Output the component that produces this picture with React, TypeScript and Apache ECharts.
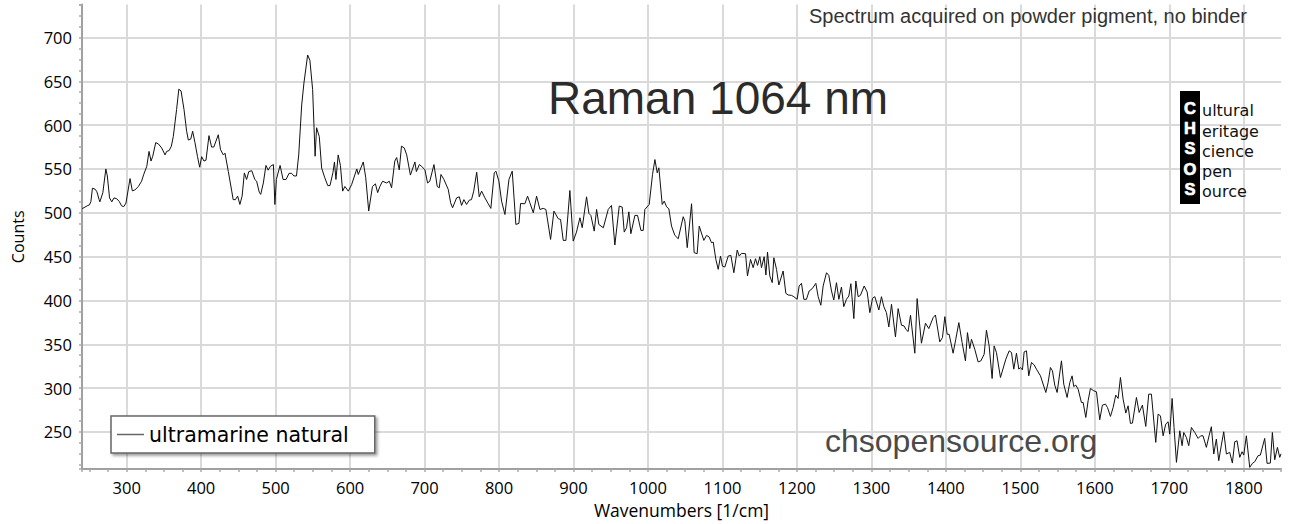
import React, { useEffect, useRef } from "react";
import * as echarts from "echarts";

// Raman spectrum: [wavenumber (1/cm), counts]
const spectrum: [number, number][] = [
  [240, 505], [241, 505], [247, 508], [250, 509], [252, 513], [254, 528], [257.5, 527], [260, 524], [263, 515], [264, 512.5],
  [268, 523], [272, 550], [274, 542], [277, 517], [280, 512.5], [283, 517], [286.6, 516], [290, 513], [293, 508], [296, 507],
  [299, 511], [304.5, 539], [307.6, 525], [311, 526], [315.7, 530], [320, 536], [323, 544], [327, 553], [330, 570], [332.7, 559],
  [335, 564.5], [339, 580], [342.5, 578.6], [347, 574], [351.5, 566], [353.7, 570], [357, 571], [360, 576], [362.6, 587], [367, 617.7],
  [370, 641], [373, 639], [377, 617.7], [380.5, 593], [382.8, 583], [386, 584], [388.6, 593], [391.7, 580], [395, 564.5], [398, 552],
  [400.7, 564], [403.8, 559], [406.5, 560], [410.5, 588], [414, 575], [417, 575], [423, 589], [426, 572], [429.8, 566], [432, 568],
  [436.5, 547], [441, 525], [443, 515], [446, 515], [449, 519], [452, 509.5], [455, 519], [458, 545.5], [461, 538], [464, 547],
  [468, 548], [472, 538], [474.5, 536], [478, 523.5], [480, 521], [483.5, 534], [487, 554], [490, 548.6], [493, 553], [497, 555],
  [499, 509.5], [501, 538], [506, 554], [510, 538], [514, 538], [518, 545], [521.5, 545], [524.6, 542], [528, 542], [531, 566],
  [535, 623], [538, 648], [543, 680], [546, 674], [549.7, 640.5], [553, 564.5], [555, 597], [558.6, 587], [561.8, 551], [566, 540],
  [570, 531], [573, 531], [577, 546], [579, 558], [581, 538], [584, 566], [587, 554], [590, 524.7], [593, 530], [597.6, 524.7],
  [602, 532], [609, 550], [611, 543.7], [617.7, 558], [621, 540], [625, 502], [630, 530], [634, 533], [637, 523], [640, 530],
  [643.6, 536], [649, 534], [652.6, 536], [655.7, 528.5], [660, 559], [662.5, 563], [666, 549], [669, 576], [672.7, 574], [676, 566],
  [681, 543], [687, 558], [689, 547], [693, 555], [696, 553], [700.5, 549], [704, 534],
  [707, 536], [712.6, 555], [717, 530], [719.7, 528.5], [722, 543.7], [726, 538], [731.8, 526.6], [735, 511.4], [737.6, 505.7], [743, 517],
  [746.6, 518.2], [749.7, 508.4], [752.8, 515], [756.4, 509.5], [760, 514.4], [763, 515], [766, 524.7], [770, 546.3], [773.4, 518.2], [776.6, 524.7],
  [781, 517], [785.5, 510.3], [789, 505], [793.6, 545.6], [795.8, 547.5], [799.8, 536], [803.4, 513.3], [807.9, 498], [813.3, 538], [817.7, 547.5],
  [822.6, 486.7], [826.7, 487.9], [828.9, 510.6], [834.7, 510.3], [838.3, 519], [841.4, 511.4], [846, 500], [850.4, 519], [854.9, 503.8], [859.3, 505],
  [862.9, 503.8], [869.2, 469.6], [873.7, 501.9], [879.5, 493.2], [882.6, 492.4], [886.2, 468.5], [889.8, 468.5], [895.1, 525.4], [899.6, 467.7], [904, 478],
  [908.6, 494.3], [911.7, 483], [917.5, 518.2], [920.7, 499.2], [923.3, 497], [927.8, 479.1], [931, 503.8], [934, 486.7], [940, 482.9], [946.6, 503.8],
  [951, 508.4], [955.5, 463.2], [961.4, 507.6], [965.4, 506.5], [968.1, 478], [971.2, 482.9], [974.3, 501.1], [977, 476.1], [982.4, 497], [986, 497],
  [990.5, 479.9], [993.6, 479.9], [995.8, 503.8], [1001.6, 509.5], [1006.1, 543.7], [1009.3, 560.7], [1012.4, 545.6], [1014.6, 551.3], [1019.1, 509.5], [1021.8, 513.3],
  [1025, 506.8], [1028, 504.6], [1031.6, 484.8], [1036.1, 474.2], [1040.6, 470.4], [1047.3, 495.5], [1049.5, 490.5], [1052.7, 460.2], [1058.5, 510.3], [1062, 454.5],
  [1066, 453.3], [1068.8, 484.8], [1075, 468.5], [1078.6, 474.2], [1082.2, 472.3], [1085.3, 465.8], [1087.6, 466.6], [1091.1, 446.9], [1094.3, 435.5],
  [1097.4, 450.6], [1100, 439.2], [1103.2, 438.1], [1107.7, 450.6], [1111.3, 451.4], [1115.3, 431.6], [1119.8, 457.5], [1122.5, 450.6], [1125.6, 453.7], [1131, 453.3],
  [1133.6, 427.9], [1137.7, 446.8], [1141.2, 437.4], [1144.4, 447.6], [1147.1, 440], [1150.2, 449.9], [1152.4, 437.4], [1156, 449.9], [1158.3, 429], [1160.5, 455.2],
  [1163.6, 427.9], [1166.8, 420.3], [1169, 448.7], [1172.6, 435.5], [1175.7, 417.6], [1181.5, 433.6], [1185.1, 408.1], [1188.2, 406.2], [1192.7, 405.8], [1195.8, 404.3],
  [1200.3, 401.3], [1203, 416.5], [1206.1, 419.5], [1209.3, 401.3], [1212.8, 401.3], [1216.4, 410.8], [1220.5, 413.4], [1225.4, 419.5], [1228.5, 404.3], [1232.1, 394.5],
  [1235.2, 416.5], [1239.7, 431.6], [1242.8, 428.6], [1246.4, 410.8], [1249.5, 400.5], [1253.1, 420.3], [1256.3, 401.3], [1259.8, 415.3], [1262.9, 392.9], [1266.5, 401.3],
  [1269.7, 405], [1272.4, 419.1], [1276.4, 379.3], [1279.1, 422.2], [1282.2, 404.3], [1285.3, 405.8], [1290.3, 416.5], [1294.3, 409.6], [1297.9, 386.1], [1301.5, 402.4],
  [1304.6, 404.3], [1310, 389.1], [1313.5, 404.3], [1316.7, 392.9], [1320.2, 386.1], [1323.4, 369.8], [1327, 395.6], [1332.3, 358.4], [1335.9, 390.7], [1340.4, 371.7],
  [1343.9, 370.9], [1346.2, 367.1], [1349.3, 364.5], [1352.5, 383.1], [1358.3, 339.8], [1361.4, 402.1], [1367.2, 351.2], [1372.6, 374], [1377.1, 367.9], [1382.9, 380.4],
  [1386, 383.4], [1391.8, 352.7], [1395.4, 357.6], [1398.6, 381.5], [1401.7, 361.4], [1404.4, 361.4], [1409.7, 339.8], [1413.3, 355.7], [1417.4, 374.7], [1421.8, 351.9],
  [1426.3, 331], [1429, 363.3], [1432.1, 345.1], [1434.4, 355.7], [1438.8, 344.3], [1443.3, 329.9], [1446.9, 331], [1451.4, 338.6], [1454.5, 366], [1458.1, 348.1],
  [1462.1, 310.9], [1464.8, 348.1], [1467.9, 340.5],
  [1473.3, 312.1], [1480.5, 333], [1485, 342.5], [1488.1, 340.6], [1491.2, 321.6], [1494.8, 339.8], [1497.9, 321.6], [1500.1, 323.5], [1502.8, 320.8], [1505.1, 341.3],
  [1508.2, 342.5], [1511.3, 314], [1514.9, 329.2], [1518.5, 326.5], [1521.6, 321.6], [1527, 314], [1534.2, 295], [1537.3, 306.4], [1540.4, 323.5], [1543.1, 319.7],
  [1546.2, 303.4], [1549.4, 295], [1555.2, 331.1], [1558.3, 304.5], [1562.8, 289.3], [1566.4, 306.4], [1569.5, 314], [1571.7, 301.8], [1574.4, 303.4], [1577.6, 298.8],
  [1582, 283.6], [1584.3, 283.6], [1587.9, 266.5], [1591, 285.5], [1594.1, 299.6], [1598.6, 296.9], [1602.2, 295.8], [1606.6, 263.9], [1610.2, 280.6], [1614.3, 281.7],
  [1617, 277.9], [1621, 267.7], [1624.6, 277.9], [1628.1, 292], [1631.3, 288.2], [1634.4, 312.1], [1638, 287.4], [1641.6, 271.5], [1644.7, 279.8], [1647.8, 259.7],
  [1650.5, 260.1], [1655.9, 289.3], [1659.5, 272.2], [1663.9, 280.6], [1668.4, 256.3], [1672.4, 293.1], [1676, 293.1], [1681.8, 238.1], [1685, 270.3], [1688.1, 268.4],
  [1691.7, 245.6], [1695.2, 258.9], [1698.4, 261.6], [1700.6, 247.5], [1703.8, 288.2], [1706.4, 255.1], [1709.6, 215.3], [1714.1, 251.3], [1717.2, 234.3], [1719.4, 249.4],
  [1723, 243.7], [1726.1, 234.3], [1729.7, 255.1], [1734.2, 249.4], [1738.7, 242.6],
  [1742.2, 245.6], [1745.3, 245.6], [1749.8, 232.4], [1753.4, 245.6], [1756.5, 255.9], [1759.7, 224.8], [1763.2, 241.8], [1766.4, 217.2], [1769.9, 235], [1773.1, 250.2],
  [1776.7, 224.8], [1781.1, 226.7], [1784.7, 214.5], [1787.9, 238.8], [1791, 239.9], [1794.6, 221], [1797.7, 227.4], [1800, 223.6], [1803.5, 245.6], [1808, 209.6],
  [1811.6, 214.1], [1814.7, 216], [1819.2, 222.9], [1822.3, 223.6], [1828.1, 242.6], [1831.3, 214.1], [1835.7, 214.5], [1838.4, 249.4], [1841.6, 218.3], [1845.2, 232.4],
  [1848.3, 221], [1850, 225],
];

const seriesName = "ultramarine natural";
const xExtent = [240, 1850];
const yExtent = [207.6, 737.6];
const titleText = "Raman 1064 nm";
const noteText = "Spectrum acquired on powder pigment, no binder";
const siteText = "chsopensource.org";
const logoLetters = ["C", "H", "S", "O", "S"];
const logoWords = ["ultural", "eritage", "cience", "pen", "ource"];

const plainNumber = (v: number) => String(v);

export default function App() {
  const ref = useRef<HTMLDivElement>(null);

  useEffect(() => {
    if (!ref.current) return;
    const chart = echarts.init(ref.current, null, { renderer: "svg" });

    const logoStep = 20.2;
    const logoGraphics: any[] = [
      { type: "rect", shape: { x: 1180, y: 91, width: 20, height: 113 }, style: { fill: "#000" }, z: 10 },
    ];
    logoLetters.forEach((ch, i) => {
      logoGraphics.push({
        type: "text",
        x: 1190,
        y: 108 + logoStep * i,
        z: 11,
        style: {
          text: ch,
          fill: "#fff",
          stroke: "#fff",
          lineWidth: 0.7,
          fontFamily: "Liberation Sans, Arial, sans-serif",
          fontWeight: "bold",
          fontSize: 16.5,
          textAlign: "center",
          textVerticalAlign: "middle",
          align: "center",
          verticalAlign: "middle",
        },
      });
    });
    logoWords.forEach((w, i) => {
      logoGraphics.push({
        type: "text",
        x: 1202,
        y: 110.8 + logoStep * i,
        z: 11,
        style: {
          text: w,
          fill: "#111",
          fontFamily: "DejaVu Sans, sans-serif",
          fontSize: 16,
          textAlign: "left",
          textVerticalAlign: "middle",
          align: "left",
          verticalAlign: "middle",
        },
      });
    });

    chart.setOption({
      animation: false,
      backgroundColor: "#fff",
      grid: { left: 82, right: 12, top: 4.5, bottom: 54, containLabel: false },
      legend: {
        data: [{ name: seriesName, icon: "rect" }],
        left: 111,
        top: 416,
        itemWidth: 27,
        itemHeight: 1.5,
        padding: [8, 26, 8, 6],
        backgroundColor: "#fff",
        borderColor: "#666",
        borderWidth: 1.5,
        borderRadius: 0,
        shadowBlur: 3,
        shadowColor: "rgba(0,0,0,0.4)",
        shadowOffsetX: 2,
        shadowOffsetY: 2,
        itemStyle: { color: "#666", borderWidth: 0 },
        textStyle: { fontFamily: "DejaVu Sans, sans-serif", fontSize: 20.5, color: "#000" },
        z: 20,
      },
      xAxis: {
        type: "value",
        min: xExtent[0],
        max: xExtent[1],
        splitNumber: 16,
        name: "Wavenumbers [1/cm]",
        nameLocation: "middle",
        nameGap: 29,
        nameTextStyle: { fontFamily: "Open Sans, sans-serif", fontSize: 17.5, color: "#000" },
        axisLine: { show: true, onZero: false, lineStyle: { color: "#a0a0a0", width: 2 } },
        axisTick: { show: true, length: 3, lineStyle: { color: "#a8a8a8", width: 1.5 } },
        minorTick: { show: true, splitNumber: 4, length: 3, lineStyle: { color: "#a8a8a8", width: 1.5 } },
        splitLine: { show: true, showMinLine: false, showMaxLine: false, lineStyle: { color: "#dadada", width: 2 } },
        axisLabel: {
          showMinLabel: false,
          showMaxLabel: false,
          margin: 10,
          formatter: plainNumber,
          fontFamily: "Open Sans, sans-serif",
          fontSize: 16.5,
          color: "#000",
        },
      },
      yAxis: {
        type: "value",
        min: yExtent[0],
        max: yExtent[1],
        splitNumber: 10,
        name: "Counts",
        nameLocation: "middle",
        nameGap: 56,
        nameTextStyle: { fontFamily: "Open Sans, sans-serif", fontSize: 16, color: "#000" },
        axisLine: { show: true, onZero: false, lineStyle: { color: "#a0a0a0", width: 2 } },
        axisTick: { show: true, length: 3, lineStyle: { color: "#a8a8a8", width: 1.5 } },
        minorTick: { show: true, splitNumber: 4, length: 3, lineStyle: { color: "#a8a8a8", width: 1.5 } },
        splitLine: { show: true, showMinLine: false, showMaxLine: false, lineStyle: { color: "#dadada", width: 2 } },
        axisLabel: {
          showMinLabel: false,
          showMaxLabel: false,
          margin: 10,
          formatter: plainNumber,
          fontFamily: "Open Sans, sans-serif",
          fontSize: 16.5,
          color: "#000",
        },
      },
      series: [
        {
          type: "line",
          name: seriesName,
          data: spectrum,
          symbol: "none",
          showSymbol: false,
          clip: true,
          lineStyle: { color: "#111", width: 1 },
          itemStyle: { color: "#111" },
          z: 3,
        },
      ],
      graphic: [
        {
          type: "text",
          x: 548,
          y: 98,
          z: 10,
          style: {
            text: titleText,
            fill: "#2b2b2b",
            fontFamily: "Liberation Sans, Arial, sans-serif",
            fontSize: 46,
            textAlign: "left",
            textVerticalAlign: "middle",
            align: "left",
            verticalAlign: "middle",
          },
        },
        {
          type: "text",
          x: 1247,
          y: 16.3,
          z: 10,
          style: {
            text: noteText,
            fill: "#333",
            fontFamily: "Liberation Sans, Arial, sans-serif",
            fontSize: 20,
            textAlign: "right",
            textVerticalAlign: "middle",
            align: "right",
            verticalAlign: "middle",
          },
        },
        {
          type: "text",
          x: 825,
          y: 441,
          z: 10,
          style: {
            text: siteText,
            fill: "#4a4a4a",
            fontFamily: "Liberation Sans, Arial, sans-serif",
            fontSize: 32,
            textAlign: "left",
            textVerticalAlign: "middle",
            align: "left",
            verticalAlign: "middle",
          },
        },
        ...logoGraphics,
      ],
    });

    return () => chart.dispose();
  }, []);

  return (
    <div
      ref={ref}
      style={{ position: "fixed", left: 0, top: 0, width: 1293, height: 524, background: "#fff" }}
    />
  );
}
